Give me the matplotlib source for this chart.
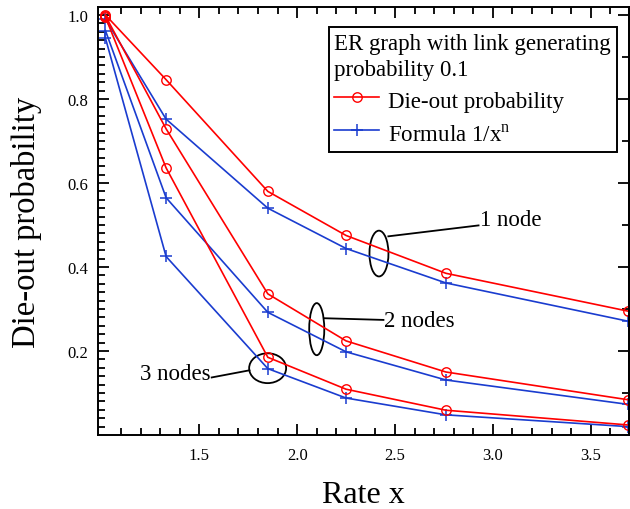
import numpy as np
import matplotlib
matplotlib.use("Agg")
import matplotlib.pyplot as plt
from matplotlib.patches import Ellipse
from matplotlib.ticker import FixedLocator

plt.rcParams['font.family'] = ['Liberation Serif', 'DejaVu Serif']
plt.rcParams['mathtext.fontset'] = 'custom'
plt.rcParams['mathtext.rm'] = 'Liberation Serif'

# Data
rate = [1.02, 1.33, 1.85, 2.25, 2.76, 3.69]
dieout_1node = [1.0, 0.846, 0.580, 0.475, 0.385, 0.295]
dieout_2nodes = [0.998, 0.729, 0.336, 0.224, 0.150, 0.084]
dieout_3nodes = [0.995, 0.636, 0.185, 0.109, 0.059, 0.024]
formula_1node = [0.990, 0.752, 0.540, 0.444, 0.362, 0.271]
formula_2nodes = [0.963, 0.565, 0.292, 0.198, 0.131, 0.073]
formula_3nodes = [0.945, 0.425, 0.158, 0.088, 0.048, 0.020]

red = '#ff0000'
blue = '#1a3ccf'

fig = plt.figure(figsize=(6.3, 5.1), dpi=100)
ax = fig.add_axes([98/630, 1 - 436/510, 531/630, 428/510])

for ys in [formula_1node, formula_2nodes, formula_3nodes]:
    hb, = ax.plot(rate, ys, color=blue, lw=1.2, marker='+', ms=8.5, mew=1.1)
for ys in [dieout_1node, dieout_2nodes, dieout_3nodes]:
    hr, = ax.plot(rate, ys, color=red, lw=1.2, marker='o', ms=6.8, mfc='none',
                  mec=red, mew=1.0)

ax.set_xlim(0.982, 3.696)
ax.set_ylim(0.0, 1.019)

ax.xaxis.set_major_locator(FixedLocator([1.5, 2.0, 2.5, 3.0, 3.5]))
ax.xaxis.set_minor_locator(FixedLocator(np.arange(1.1, 3.65, 0.1)))
ax.yaxis.set_major_locator(FixedLocator([0.2, 0.4, 0.6, 0.8, 1.0]))
ax.yaxis.set_minor_locator(FixedLocator(np.arange(0.02, 1.0, 0.02)))
ax.tick_params(which='both', direction='in', top=True, right=False,
               labelsize=12, width=1.3)
ax.tick_params(axis='x', which='major', length=8, pad=9)
ax.tick_params(axis='y', which='major', length=8, pad=7)
ax.tick_params(which='minor', length=5)
for s in ax.spines.values():
    s.set_linewidth(1.4)

sec = ax.secondary_yaxis('right')
sec.yaxis.set_major_locator(FixedLocator([0.2, 0.4, 0.6, 0.8, 1.0]))
sec.yaxis.set_minor_locator(FixedLocator([0.1, 0.3, 0.5, 0.7, 0.9]))
sec.tick_params(which='both', direction='in', labelright=False, width=1.3)
sec.tick_params(which='major', length=8)
sec.tick_params(which='minor', length=5)
sec.spines['right'].set_linewidth(1.4)

ax.set_xlabel('Rate x', fontsize=23, labelpad=12)
ax.set_ylabel('Die-out probability', fontsize=23.5, labelpad=18)

leg = ax.legend([hr, hb], ['Die-out probability', 'Formula 1/x$^{\\mathregular{n}}$'],
                title='ER graph with link generating\nprobability 0.1',
                loc='upper right', bbox_to_anchor=(0.977, 0.953), borderaxespad=0,
                fontsize=16.5, title_fontsize=16.5, fancybox=False, framealpha=1,
                edgecolor='black', handlelength=1.95, handletextpad=0.4,
                handleheight=1.45, borderpad=0.25, labelspacing=0.25,
                alignment='left')
leg.get_frame().set_linewidth(1.4)
leg.get_title().set_linespacing(1.35)

# annotations: ellipses around node groups
ell_kw = dict(fill=False, ec='black', lw=1.3)
ax.add_patch(Ellipse((2.418, 0.432), 0.097, 0.109, **ell_kw))
ax.add_patch(Ellipse((2.10, 0.252), 0.077, 0.124, **ell_kw))
ax.add_patch(Ellipse((1.849, 0.159), 0.189, 0.071, **ell_kw))

ax.plot([2.466, 2.927], [0.473, 0.499], color='black', lw=1.3)
ax.plot([2.139, 2.441], [0.278, 0.274], color='black', lw=1.3)
ax.plot([1.563, 1.756], [0.137, 0.154], color='black', lw=1.3)

ax.text(2.937, 0.512, '1 node', fontsize=16.5, ha='left', va='center')
ax.text(2.446, 0.273, '2 nodes', fontsize=16.5, ha='left', va='center')
ax.text(1.560, 0.147, '3 nodes', fontsize=16.5, ha='right', va='center')

fig.savefig('out.png', dpi=100)
